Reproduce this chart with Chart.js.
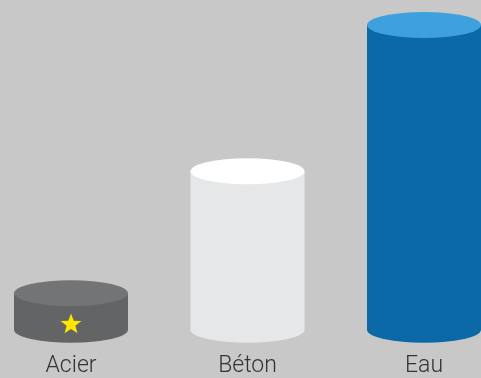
<!DOCTYPE html>
<html>
<head>
<meta charset="utf-8">
<script src="https://cdn.jsdelivr.net/npm/chart.js@4"></script>
<style>
  html, body { margin: 0; padding: 0; background: #c8c8c9; }
  #wrap { width: 481px; height: 378px; position: relative; }
</style>
</head>
<body>
<div id="wrap"><canvas id="cylChart"></canvas></div>
<script>
// data (Eau = 100)
const categories = ['Acier', 'Béton', 'Eau'];
const values = [12, 52, 100];
const starred = 'Acier';

const sideColors = ['#636466', '#e6e7e8', '#0a69a6'];
const topColors = ['#737476', '#ffffff', '#3fa0de'];

// draws each bar as a cylinder, using the bar element geometry
const cylinders = {
    id: 'cylinders',
    afterDatasetsDraw(chart) {
        const ctx = chart.ctx;
        const meta = chart.getDatasetMeta(0);
        meta.data.forEach((bar, i) => {
            const p = bar.getProps(['x', 'y', 'base', 'width'], true);
            const rx = p.width / 2;
            const ry = 13;
            ctx.save();
            // body
            ctx.fillStyle = sideColors[i];
            ctx.beginPath();
            ctx.moveTo(p.x - rx, p.y);
            ctx.lineTo(p.x - rx, p.base);
            ctx.ellipse(p.x, p.base, rx, ry, 0, Math.PI, 0, true);
            ctx.lineTo(p.x + rx, p.y);
            ctx.closePath();
            ctx.fill();
            // top
            ctx.fillStyle = topColors[i];
            ctx.beginPath();
            ctx.ellipse(p.x, p.y, rx, ry, 0, 0, Math.PI * 2);
            ctx.fill();
            // star
            if (categories[i] === starred) {
                const cx = p.x;
                const cy = (p.y + p.base) / 2 + ry;
                const R = 11, r = 4.6;
                ctx.fillStyle = '#ffe500';
                ctx.beginPath();
                for (let k = 0; k < 10; k++) {
                    const a = -Math.PI / 2 + k * Math.PI / 5;
                    const rad = k % 2 === 0 ? R : r;
                    ctx.lineTo(cx + rad * Math.cos(a), cy + rad * Math.sin(a));
                }
                ctx.closePath();
                ctx.fill();
            }
            ctx.restore();
        });
    }
};

new Chart(document.getElementById('cylChart'), {
    type: 'bar',
    data: {
        labels: categories,
        datasets: [{
            data: values,
            backgroundColor: 'rgba(0,0,0,0)',
            barThickness: 114
        }]
    },
    options: {
        responsive: true,
        maintainAspectRatio: false,
        animation: false,
        layout: { padding: { left: 71, right: 57, top: 25, bottom: -25 } },
        plugins: {
            legend: { display: false },
            tooltip: { enabled: false }
        },
        scales: {
            x: {
                offset: false,
                grid: { display: false, drawTicks: false },
                border: { display: false },
                ticks: {
                    color: '#333333',
                    padding: 24,
                    font: { family: 'Roboto', size: 23, weight: 300, lineHeight: 1.1 }
                }
            },
            y: {
                display: false,
                min: 0,
                max: 100
            }
        }
    },
    plugins: [cylinders]
});
</script>
</body>
</html>
